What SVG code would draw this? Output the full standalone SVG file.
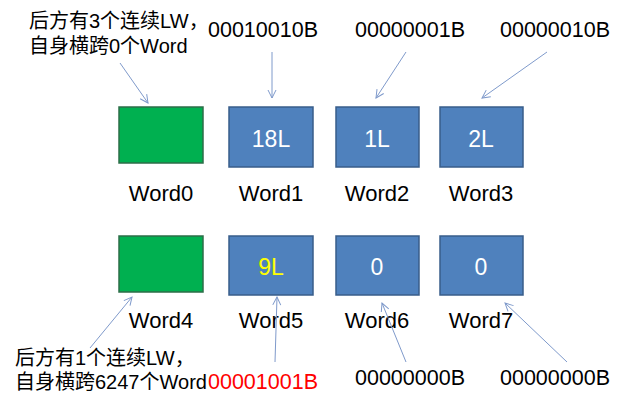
<svg xmlns="http://www.w3.org/2000/svg" width="640" height="401" viewBox="0 0 640 401">
<defs>
<style>
text{font-family:"Liberation Sans","Noto Sans CJK SC",sans-serif;fill:#000}
.lbl{font-size:22px;text-anchor:middle}
.num{font-size:21.5px}
.cn{font-size:20px}
.in{font-size:23px;text-anchor:middle;fill:#fff}
.g{fill:#00b050;stroke:#2c6e48;stroke-width:1.5}
.b{fill:#4f81bd;stroke:#385d8a;stroke-width:1.5}
.c{stroke:#7f9acb;stroke-width:1;fill:none;marker-end:url(#ah)}
</style>
<marker id="ah" viewBox="0 0 10 10" refX="9" refY="5" markerWidth="10" markerHeight="10" markerUnits="userSpaceOnUse" orient="auto">
<path d="M1,1 L9,5 L1,9" fill="none" stroke="#7f9acb" stroke-width="1"/>
</marker>
</defs>
<rect width="640" height="401" fill="#fff"/>
<g id="word0"><rect class="g" x="119" y="107" width="84" height="56"/><text class="lbl" x="161" y="201">Word0</text></g>
<g id="word1"><rect class="b" x="229" y="107" width="84" height="60"/><text class="in" x="271" y="147">18L</text><text class="lbl" x="271" y="201">Word1</text></g>
<g id="word2"><rect class="b" x="336" y="107" width="83" height="60"/><text class="in" x="377" y="147">1L</text><text class="lbl" x="377" y="201">Word2</text></g>
<g id="word3"><rect class="b" x="440" y="107" width="83" height="60"/><text class="in" x="481" y="147">2L</text><text class="lbl" x="481" y="201">Word3</text></g>
<g id="word4"><rect class="g" x="119" y="236" width="84" height="56"/><text class="lbl" x="161" y="328">Word4</text></g>
<g id="word5"><rect class="b" x="229" y="236" width="84" height="59"/><text class="in" x="271" y="275" style="fill:#ffff00">9L</text><text class="lbl" x="271" y="328">Word5</text></g>
<g id="word6"><rect class="b" x="336" y="236" width="83" height="59"/><text class="in" x="377" y="275">0</text><text class="lbl" x="377" y="328">Word6</text></g>
<g id="word7"><rect class="b" x="440" y="236" width="83" height="59"/><text class="in" x="481" y="275">0</text><text class="lbl" x="481" y="328">Word7</text></g>
<g id="note0"><text class="cn" x="29" y="28">后方有3个连续LW，</text><text class="cn" x="29" y="53">自身横跨0个Word</text></g>
<g id="note4"><text class="cn" x="15" y="365">后方有1个连续LW，</text><text class="cn" x="15" y="389">自身横跨6247个Word</text></g>
<g id="bits">
<text class="num" x="208" y="37">00010010B</text>
<text class="num" x="355" y="37">00000001B</text>
<text class="num" x="500" y="37">00000010B</text>
<text class="num" x="208" y="389" style="fill:#ff0000">00001001B</text>
<text class="num" x="355" y="385">00000000B</text>
<text class="num" x="500" y="385">00000000B</text>
</g>
<g id="connectors">
<line class="c" x1="120" y1="63" x2="148" y2="103"/>
<line class="c" x1="272" y1="52" x2="272" y2="98"/>
<line class="c" x1="406" y1="52" x2="376" y2="98"/>
<line class="c" x1="547" y1="52" x2="482" y2="98"/>
<line class="c" x1="90" y1="348" x2="132" y2="297"/>
<line class="c" x1="275" y1="362" x2="277" y2="297"/>
<line class="c" x1="406" y1="362" x2="382" y2="303"/>
<line class="c" x1="567" y1="362" x2="505" y2="303"/>
</g>
</svg>
